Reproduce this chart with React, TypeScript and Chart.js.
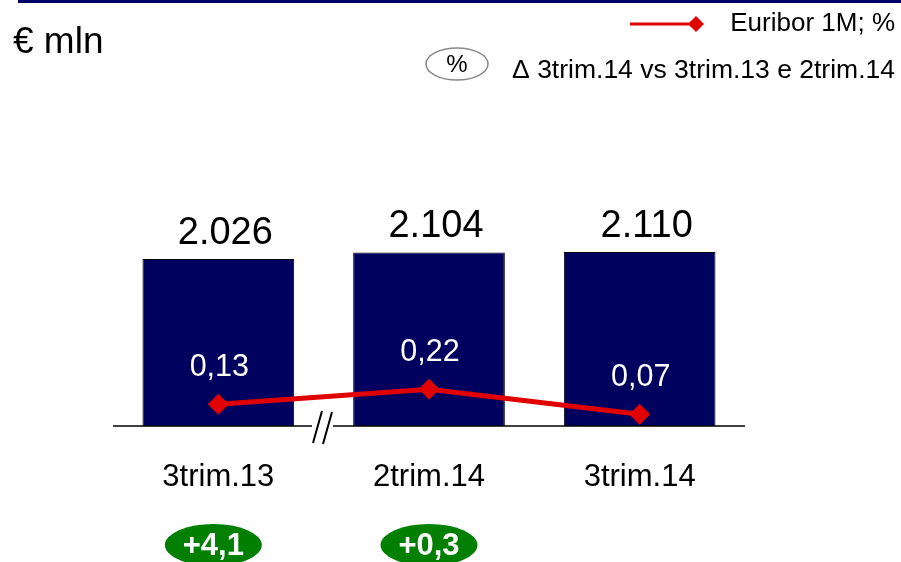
import { useEffect, useRef } from 'react';
import { Chart, registerables } from 'chart.js';

Chart.register(...registerables);

const categories = ['3trim.13', '2trim.14', '3trim.14'];
const volumes = [2026, 2104, 2110];
const euribor = [0.13, 0.22, 0.07];
const deltas = [4.1, 0.3];

const FONT = '"Liberation Sans", Arial, sans-serif';
const NAVY = '#00005E';
const RED = '#E00000';
const GREEN = '#007F00';

const fmtThousands = (v: number) =>
  v >= 1000 ? `${Math.floor(v / 1000)}.${String(v % 1000).padStart(3, '0')}` : String(v);
const fmtDec = (v: number, d: number) => v.toFixed(d).replace('.', ',');

export default function App() {
  const ref = useRef<HTMLCanvasElement>(null);

  useEffect(() => {
    if (!ref.current) return;

    const overlay = {
      id: 'overlay',
      afterDatasetsDraw(chart: any) {
        const ctx = chart.ctx as CanvasRenderingContext2D;
        const xScale = chart.scales.x;
        const area = chart.chartArea;
        const base = area.bottom;
        ctx.save();

        // header rule
        ctx.fillStyle = '#000066';
        ctx.fillRect(18, 0, chart.width - 18, 3);

        // unit
        ctx.fillStyle = '#000';
        ctx.textAlign = 'left';
        ctx.textBaseline = 'middle';
        ctx.font = `37px ${FONT}`;
        ctx.fillText('€ mln', 13, 43);

        // legend: line series
        ctx.strokeStyle = RED;
        ctx.lineWidth = 3;
        ctx.beginPath();
        ctx.moveTo(630, 24);
        ctx.lineTo(693, 24);
        ctx.stroke();
        ctx.fillStyle = RED;
        ctx.beginPath();
        ctx.moveTo(696, 16);
        ctx.lineTo(704, 24);
        ctx.lineTo(696, 32);
        ctx.lineTo(688, 24);
        ctx.closePath();
        ctx.fill();
        ctx.fillStyle = '#000';
        ctx.font = `26px ${FONT}`;
        ctx.textAlign = 'right';
        ctx.fillText('Euribor 1M; %', 895, 24);

        // legend: delta oval
        ctx.strokeStyle = '#888';
        ctx.lineWidth = 1.5;
        ctx.beginPath();
        ctx.ellipse(457, 64, 31, 16, 0, 0, Math.PI * 2);
        ctx.stroke();
        ctx.textAlign = 'center';
        ctx.font = `24px ${FONT}`;
        ctx.fillText('%', 457, 65);
        ctx.textAlign = 'right';
        ctx.font = `26.5px ${FONT}`;
        ctx.fillText('Δ 3trim.14 vs 3trim.13 e 2trim.14', 895, 71);

        // baseline with break marks
        ctx.strokeStyle = '#000';
        ctx.lineWidth = 1.5;
        ctx.beginPath();
        ctx.moveTo(area.left, base);
        ctx.lineTo(312, base);
        ctx.moveTo(333, base);
        ctx.lineTo(area.right, base);
        ctx.stroke();
        ctx.lineWidth = 2;
        ctx.beginPath();
        ctx.moveTo(313, 443);
        ctx.lineTo(322, 411);
        ctx.moveTo(323, 444);
        ctx.lineTo(332, 412);
        ctx.stroke();

        // bar value labels
        const bars = chart.getDatasetMeta(1).data;
        ctx.fillStyle = '#000';
        ctx.textAlign = 'center';
        ctx.textBaseline = 'middle';
        ctx.font = `38px ${FONT}`;
        bars.forEach((b: any, i: number) => {
          ctx.fillText(fmtThousands(volumes[i]), b.x + 7, b.y - 26);
        });

        // line value labels
        const pts = chart.getDatasetMeta(0).data;
        ctx.fillStyle = '#fff';
        ctx.font = `30.5px ${FONT}`;
        pts.forEach((p: any, i: number) => {
          ctx.fillText(fmtDec(euribor[i], 2), p.x + 1, p.y - 37);
        });

        // category labels
        ctx.fillStyle = '#000';
        ctx.font = `31px ${FONT}`;
        categories.forEach((c, i) => {
          ctx.fillText(c, xScale.getPixelForValue(i), 477);
        });

        // change badges
        deltas.forEach((d, i) => {
          const cx = xScale.getPixelForValue(i) - (i === 0 ? 5 : 0);
          ctx.fillStyle = GREEN;
          ctx.beginPath();
          ctx.ellipse(cx, 545, 48.5, 21, 0, 0, Math.PI * 2);
          ctx.fill();
          ctx.fillStyle = '#fff';
          ctx.font = `bold 31px ${FONT}`;
          ctx.fillText(`+${fmtDec(d, 1)}`, cx, 546);
        });

        ctx.restore();
      },
    };

    const chart = new Chart(ref.current, {
      type: 'bar',
      data: {
        labels: categories,
        datasets: [
          {
            type: 'line',
            label: 'Euribor 1M; %',
            data: euribor,
            yAxisID: 'y1',
            borderColor: RED,
            borderWidth: 5,
            pointStyle: 'rectRot',
            pointRadius: 10,
            pointBackgroundColor: RED,
            pointBorderColor: RED,
            pointBorderWidth: 1,
            order: 0,
          },
          {
            type: 'bar',
            label: '€ mln',
            data: volumes,
            yAxisID: 'y',
            backgroundColor: NAVY,
            borderColor: '#000',
            borderWidth: 1,
            categoryPercentage: 1,
            barPercentage: 0.72,
            order: 1,
          },
        ],
      } as any,
      options: {
        animation: false,
        responsive: true,
        maintainAspectRatio: false,
        events: [],
        layout: { padding: { left: 113, right: 156, top: 180, bottom: 136 } },
        scales: {
          x: { display: false },
          y: { display: false, min: 0, max: 2985 },
          y1: { display: false, min: 0, max: 1.47 },
        },
        plugins: { legend: { display: false }, tooltip: { enabled: false } },
      },
      plugins: [overlay],
    });

    return () => chart.destroy();
  }, []);

  return (
    <div style={{ position: 'fixed', left: 0, top: 0, width: 901, height: 562, background: '#fff' }}>
      <canvas ref={ref} />
    </div>
  );
}
